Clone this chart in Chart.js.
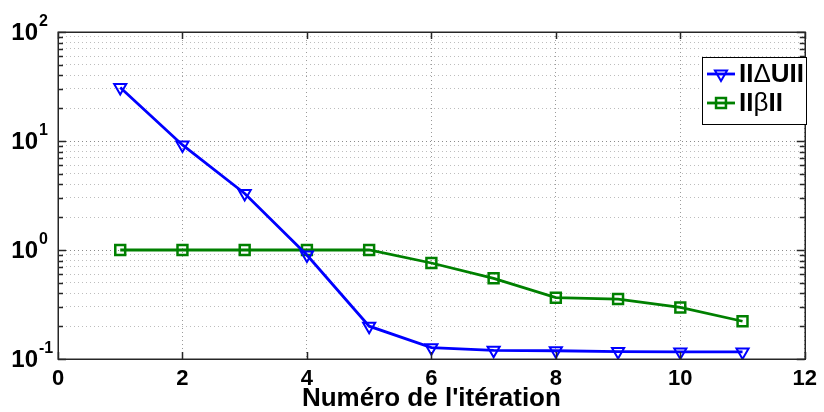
<!DOCTYPE html>
<html><head><meta charset="utf-8">
<script src="https://cdn.jsdelivr.net/npm/chart.js@4/dist/chart.umd.min.js"></script>
<style>html,body{margin:0;padding:0;background:#fff}#wrap{width:824px;height:412px}</style>
</head><body><div id="wrap"><canvas id="c" width="824" height="412"></canvas></div>
<script>
// ---- data ----
const iterations = [1, 2, 3, 4, 5, 6, 7, 8, 9, 10, 11];
const normDeltaU = [31.0, 9.2, 3.3, 0.90, 0.20, 0.127, 0.120, 0.119, 0.117, 0.116, 0.116];
const normBeta   = [1.0, 1.0, 1.0, 1.0, 1.0, 0.76, 0.55, 0.365, 0.355, 0.297, 0.222];
const xTicks = [0, 2, 4, 6, 8, 10, 12];
const yDecades = [0.1, 1, 10, 100];
const yDecadeExponents = ['-1', '0', '1', '2'];
const yMinorMultipliers = [2, 3, 4, 5, 6, 7, 8, 9];
const xTitle = "Numéro de l'itération";
const legendParts = [
  [['II', 'bold'], ['\u0394', 'normal'], ['U', 'bold'], ['II', 'bold']],
  [['II', 'bold'], ['\u03B2', 'normal'], ['II', 'bold']]
];

const FONT = "'Liberation Sans', Arial, sans-serif";
const BLUE = '#0000FF', GREEN = '#008000';

const yTickValues = [];
yDecades.forEach((d, i) => {
  yTickValues.push({ value: d, major: true });
  if (i < yDecades.length - 1) yMinorMultipliers.forEach(m => yTickValues.push({ value: +(d * m).toPrecision(3), major: false }));
});

const framePlugin = {
  id: 'frame',
  afterDraw(chart) {
    const { ctx, chartArea: a, scales } = chart;
    const xs = scales.x, ys = scales.y;
    ctx.save();
    // ticks
    ctx.strokeStyle = '#262626';
    ctx.lineWidth = 1.5;
    ctx.beginPath();
    xs.ticks.forEach(t => {
      const px = Math.round(xs.getPixelForValue(t.value)) + 0.5;
      ctx.moveTo(px, a.bottom); ctx.lineTo(px, a.bottom - 7);
      ctx.moveTo(px, a.top); ctx.lineTo(px, a.top + 7);
    });
    ys.ticks.forEach(t => {
      const py = Math.round(ys.getPixelForValue(t.value)) + 0.5;
      const len = t.major ? 8 : 5;
      ctx.moveTo(a.left, py); ctx.lineTo(a.left + len, py);
      ctx.moveTo(a.right, py); ctx.lineTo(a.right - len, py);
    });
    ctx.stroke();
    // frame
    ctx.lineWidth = 1.5;
    ctx.strokeRect(Math.round(a.left) + 0.25, Math.round(a.top) + 0.25, Math.round(a.right - a.left), Math.round(a.bottom - a.top));
    // y tick labels 10^n
    ctx.fillStyle = '#000';
    yDecades.forEach((d, i) => {
      const py = ys.getPixelForValue(d);
      ctx.font = 'bold 24px ' + FONT;
      ctx.textAlign = 'right';
      ctx.textBaseline = 'middle';
      ctx.fillText('10', 38, py + 1);
      ctx.font = 'bold 16px ' + FONT;
      ctx.textAlign = 'left';
      ctx.textBaseline = 'alphabetic';
      ctx.fillText(yDecadeExponents[i], 39, py - 6);
    });
    // legend
    const lx = 702, ly = 57, lw = 104, lh = 67;
    ctx.fillStyle = '#fff';
    ctx.fillRect(lx, ly, lw, lh);
    ctx.strokeStyle = '#000';
    ctx.lineWidth = 1;
    ctx.strokeRect(lx + 0.5, ly + 0.5, lw, lh);
    const rows = [74, 103];
    chart.data.datasets.forEach((ds, i) => {
      const y = rows[i];
      ctx.strokeStyle = ds.borderColor;
      ctx.lineWidth = ds.borderWidth;
      ctx.beginPath(); ctx.moveTo(707, y); ctx.lineTo(735, y); ctx.stroke();
      ctx.lineWidth = ds.pointBorderWidth;
      ctx.fillStyle = 'rgba(0,0,0,0)';
      Chart.helpers.drawPoint(ctx, { pointStyle: ds.pointStyle, rotation: ds.pointRotation, radius: ds.pointRadius, borderWidth: ds.pointBorderWidth }, 721, y);
      let tx = 739;
      ctx.fillStyle = '#000';
      ctx.textAlign = 'left';
      ctx.textBaseline = 'middle';
      legendParts[i].forEach(([txt, w]) => {
        ctx.font = w + ' 26px ' + FONT;
        ctx.fillText(txt, tx, y + 1);
        tx += ctx.measureText(txt).width;
      });
    });
    ctx.restore();
  }
};

new Chart(document.getElementById('c'), {
  type: 'line',
  data: {
    datasets: [
      {
        label: 'IIΔUII',
        data: iterations.map((x, i) => ({ x, y: normDeltaU[i] })),
        borderColor: BLUE, borderWidth: 2.8,
        pointStyle: 'triangle', pointRotation: 180, pointRadius: 7,
        pointBorderWidth: 2, pointBorderColor: BLUE, pointBackgroundColor: 'rgba(0,0,0,0)',
        fill: false, tension: 0
      },
      {
        label: 'IIβII',
        data: iterations.map((x, i) => ({ x, y: normBeta[i] })),
        borderColor: GREEN, borderWidth: 2.8,
        pointStyle: 'rect', pointRotation: 0, pointRadius: 7,
        pointBorderWidth: 2.5, pointBorderColor: GREEN, pointBackgroundColor: 'rgba(0,0,0,0)',
        fill: false, tension: 0
      }
    ]
  },
  options: {
    responsive: false, animation: false, devicePixelRatio: 1,
    layout: { padding: { left: 0, top: 32, right: 15, bottom: 0 } },
    plugins: { legend: { display: false }, tooltip: { enabled: false } },
    scales: {
      x: {
        type: 'linear', min: 0, max: 12,
        afterBuildTicks: s => { s.ticks = xTicks.map(v => ({ value: v })); },
        afterFit: s => { s.height = 53; },
        ticks: { color: '#000', font: { family: FONT, size: 22, weight: 'bold' }, padding: 7, maxRotation: 0, autoSkip: false },
        grid: { color: '#9a9a9a', lineWidth: 1, drawTicks: false, borderDash: [1, 3] },
        border: { display: false, dash: [1, 3] },
        title: { display: true, text: xTitle, color: '#000', font: { family: FONT, size: 26, weight: 'bold', lineHeight: 1 }, padding: 0 }
      },
      y: {
        type: 'logarithmic', min: 0.1, max: 100,
        afterBuildTicks: s => { s.ticks = yTickValues.map(t => ({ value: t.value, major: t.major })); },
        afterFit: s => { s.width = 58; },
        ticks: { display: false, autoSkip: false },
        grid: {
          color: c => (c.tick && c.tick.major) ? '#8a8a8a' : '#bdbdbd',
          lineWidth: 1, drawTicks: false, borderDash: [1, 3]
        },
        border: { display: false, dash: [1, 3] }
      }
    }
  },
  plugins: [framePlugin]
});
</script>
</body></html>
